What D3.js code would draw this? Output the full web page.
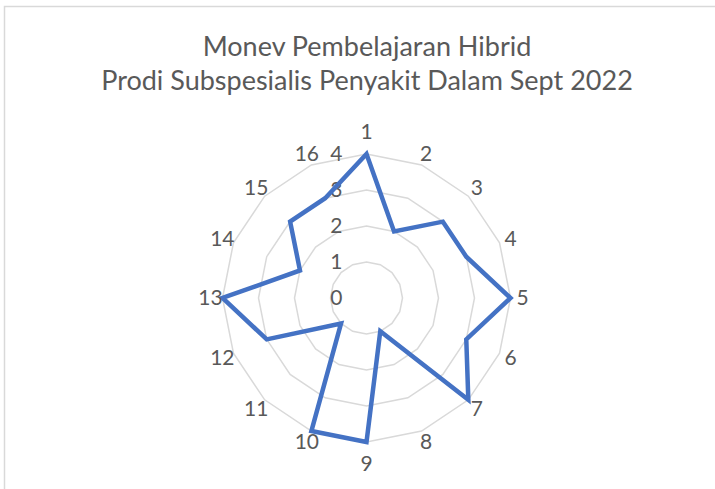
<!DOCTYPE html>
<html>
<head>
<meta charset="utf-8">
<script src="https://cdn.jsdelivr.net/npm/d3@7"></script>
<style>
  body { margin: 0; background: #fff; }
  svg { display: block; }
  text { font-family: Lato, "Open Sans", sans-serif; fill: #595959; }
</style>
</head>
<body>
<svg id="chart" width="715" height="489"></svg>
<script>
// chart data
var titleLines = ["Monev Pembelajaran Hibrid", "Prodi Subspesialis Penyakit Dalam Sept 2022"];
var categories = ["1","2","3","4","5","6","7","8","9","10","11","12","13","14","15","16"];
var values     = [4, 2, 3, 3, 4, 3, 4, 1, 4, 4, 1, 3, 4, 2, 3, 3];
var ringTicks  = [0, 1, 2, 3, 4];

var svg = d3.select("#chart");
var cx = 366.5, cy = 298, R = 144;

// chart frame
svg.append("rect")
  .attr("x", 4.5).attr("y", 6.5)
  .attr("width", 720).attr("height", 500)
  .attr("fill", "none")
  .attr("stroke", "#d9d9d9")
  .attr("stroke-width", 1.5);

// title
svg.append("g").selectAll("text")
  .data(titleLines)
  .enter().append("text")
  .attr("x", 367)
  .attr("y", function(d, i) { return 56 + i * 34; })
  .attr("text-anchor", "middle")
  .style("font-size", "27px")
  .text(function(d) { return d; });

var angle = d3.scaleBand()
  .domain(categories)
  .range([0, 2 * Math.PI])
  .paddingInner(0).paddingOuter(0).align(0);

var r = d3.scaleLinear()
  .domain([0, d3.max(ringTicks)])
  .range([0, R]);

function ang(c) { return angle(c); }

var g = svg.append("g").attr("transform", "translate(" + cx + "," + cy + ")");

// rings as 16-gons
var ringLine = d3.lineRadial()
  .angle(function(d) { return ang(d.c); })
  .radius(function(d) { return r(d.v); })
  .curve(d3.curveLinearClosed);

g.selectAll("path.ring")
  .data(ringTicks.slice(1))
  .enter().append("path")
  .attr("class", "ring")
  .attr("d", function(t) {
    return ringLine(categories.map(function(c) { return {c: c, v: t}; }));
  })
  .attr("fill", "none")
  .attr("stroke", "#d9d9d9")
  .attr("stroke-width", 1.5);

// ring tick labels
g.selectAll("text.tick")
  .data(ringTicks)
  .enter().append("text")
  .attr("class", "tick")
  .attr("x", -24)
  .attr("y", function(t) { return -r(t); })
  .attr("dy", "0.35em")
  .attr("text-anchor", "end")
  .style("font-size", "21px")
  .text(function(t) { return t; });

// series
g.append("path")
  .datum(categories.map(function(c, i) { return {c: c, v: values[i]}; }))
  .attr("d", ringLine)
  .attr("fill", "none")
  .attr("stroke", "#4472c4")
  .attr("stroke-width", 4.5)
  .attr("stroke-linejoin", "miter")
  .attr("stroke-miterlimit", 10);

// category labels
g.selectAll("text.cat")
  .data(categories)
  .enter().append("text")
  .attr("class", "cat")
  .attr("x", function(c) { return 156 * Math.sin(ang(c)); })
  .attr("y", function(c) {
    var a = ang(c), lr = Math.abs(Math.cos(a)) > 0.99 ? 166 : 156;
    return -lr * Math.cos(a);
  })
  .attr("dy", "0.35em")
  .attr("text-anchor", "middle")
  .style("font-size", "21px")
  .text(function(c) { return c; });
</script>
</body>
</html>
